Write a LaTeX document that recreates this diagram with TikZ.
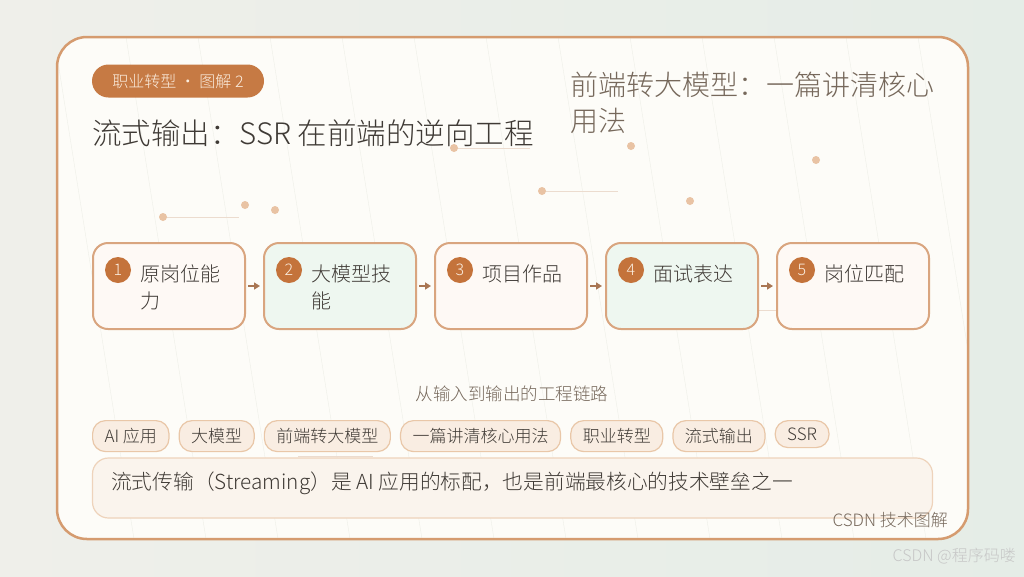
\documentclass[tikz,border=0pt]{standalone}
\usepackage{fontspec}
\IfFontExistsTF{Noto Sans CJK SC Light}{\setmainfont{Noto Sans CJK SC Light}}{\setmainfont{Noto Sans CJK SC}}
\usetikzlibrary{positioning,arrows.meta}

\definecolor{pageleft}{HTML}{EFEFEA}
\definecolor{pageright}{HTML}{E5EDE7}
\definecolor{cardfill}{HTML}{FDFCF8}
\definecolor{cardline}{HTML}{D59B6F}
\definecolor{grain}{HTML}{EEEFE8}
\definecolor{badgefill}{HTML}{C67A44}
\definecolor{badgetext}{HTML}{FBEEE0}
\definecolor{numfill}{HTML}{C4733B}
\definecolor{warmfill}{HTML}{FEF9F5}
\definecolor{mintfill}{HTML}{EEF7F0}
\definecolor{boxline}{HTML}{D9A57F}
\definecolor{arrowcol}{HTML}{A97653}
\definecolor{tagfill}{HTML}{F9EDE2}
\definecolor{tagline}{HTML}{E9C7A8}
\definecolor{quotefill}{HTML}{FAF4ED}
\definecolor{quoteline}{HTML}{EED3BB}
\definecolor{ink}{HTML}{3F3A35}
\definecolor{muted}{HTML}{76685B}
\definecolor{dotcol}{HTML}{E9C3A4}
\definecolor{dotline}{HTML}{ECDCCF}
\definecolor{wmark}{HTML}{C6C6C6}

\tikzset{
	stepbox/.style={draw=boxline, line width=2pt, rounded corners=15pt, minimum width=152pt, minimum height=86pt, inner sep=0pt},
	numdot/.style={circle, fill=numfill, text=badgetext, inner sep=0pt, minimum size=26pt, font=\fontsize{16}{16}\selectfont},
	steptext/.style={anchor=north west, inner sep=0pt, align=left, text=ink, font=\fontsize{20}{27}\selectfont},
	flow/.style={-{Triangle[length=6pt,width=7pt]}, line width=2pt, draw=arrowcol, shorten <=2pt, shorten >=3pt},
	tag/.style={draw=tagline, fill=tagfill, line width=1.2pt, rounded corners=13pt, minimum height=31pt, inner xsep=12pt, inner ysep=0pt, text=ink, font=\fontsize{17}{17}\selectfont},
	deco/.style={fill=dotcol},
	decoline/.style={draw=dotline, line width=1pt},
}

\begin{document}
\begin{tikzpicture}[x=1pt,y=-1pt]
	\useasboundingbox (0,0) rectangle (1024,576);
	\fill[left color=pageleft, right color=pageright] (0,0) rectangle (1024,576);
	\fill[cardfill, rounded corners=30pt] (57,37) rectangle (968,539);
	\begin{scope}
		\clip[rounded corners=30pt] (57,37) rectangle (968,539);
		\draw[grain] (-18,37) -- (62,539);
		\draw[grain] (54,37) -- (134,539);
		\draw[grain] (126,37) -- (206,539);
		\draw[grain] (198,37) -- (278,539);
		\draw[grain] (270,37) -- (350,539);
		\draw[grain] (342,37) -- (422,539);
		\draw[grain] (414,37) -- (494,539);
		\draw[grain] (486,37) -- (566,539);
		\draw[grain] (558,37) -- (638,539);
		\draw[grain] (630,37) -- (710,539);
		\draw[grain] (702,37) -- (782,539);
		\draw[grain] (774,37) -- (854,539);
		\draw[grain] (846,37) -- (926,539);
		\draw[grain] (918,37) -- (998,539);
	\end{scope}
	\draw[cardline, line width=2.5pt, rounded corners=30pt] (57,37) rectangle (968,539);

	\draw[decoline] (454,148) -- (530,148);
	\draw[decoline] (542,191) -- (618,191);
	\draw[decoline] (163,217) -- (239,217);
	\draw[decoline] (298,456) -- (373,456);
	\draw[decoline] (700,310) -- (776,310);
	\fill[deco] (454,148) circle (4);
	\fill[deco] (542,191) circle (4);
	\fill[deco] (163,217) circle (4);
	\fill[deco] (245,205) circle (4);
	\fill[deco] (275,210) circle (4);
	\fill[deco] (631,146) circle (4);
	\fill[deco] (816,160) circle (4);
	\fill[deco] (690,201) circle (4);
	\fill[deco] (366,427) circle (4);

	\node[fill=badgefill, text=badgetext, rounded corners=16.5pt, minimum width=172pt, minimum height=33pt, inner sep=0pt, font=\fontsize{16}{16}\selectfont] (badge) at (178,81) {职业转型 · 图解 2};
	\node[anchor=west, inner sep=0pt, text=ink, font=\fontsize{29.5}{34}\selectfont] (title) at (92,133) {流式输出：SSR 在前端的逆向工程};
	\node[anchor=north west, inner sep=0pt, align=left, text=muted, font=\fontsize{28}{36}\selectfont] (subtitle) at (570,72) {前端转大模型：一篇讲清核心\\用法};

	\node[stepbox, fill=warmfill] (s1) at (169,286) {};
	\node[stepbox, fill=mintfill] (s2) at (340,286) {};
	\node[stepbox, fill=warmfill] (s3) at (511,286) {};
	\node[stepbox, fill=mintfill] (s4) at (682,286) {};
	\node[stepbox, fill=warmfill] (s5) at (853,286) {};
	\node[numdot] (n1) at ([xshift=26pt,yshift=-28pt]s1.north west) {1};
	\node[numdot] (n2) at ([xshift=26pt,yshift=-28pt]s2.north west) {2};
	\node[numdot] (n3) at ([xshift=26pt,yshift=-28pt]s3.north west) {3};
	\node[numdot] (n4) at ([xshift=26pt,yshift=-28pt]s4.north west) {4};
	\node[numdot] (n5) at ([xshift=26pt,yshift=-28pt]s5.north west) {5};
	\node[steptext] (t1) at ([xshift=48pt,yshift=-23pt]s1.north west) {原岗位能\\力};
	\node[steptext] (t2) at ([xshift=48pt,yshift=-23pt]s2.north west) {大模型技\\能};
	\node[steptext] (t3) at ([xshift=48pt,yshift=-23pt]s3.north west) {项目作品};
	\node[steptext] (t4) at ([xshift=48pt,yshift=-23pt]s4.north west) {面试表达};
	\node[steptext] (t5) at ([xshift=48pt,yshift=-23pt]s5.north west) {岗位匹配};
	\draw[flow] (s1) -- (s2);
	\draw[flow] (s2) -- (s3);
	\draw[flow] (s3) -- (s4);
	\draw[flow] (s4) -- (s5);

	\node[text=muted, font=\fontsize{17.5}{17.5}\selectfont] (caption) at (512,394) {从输入到输出的工程链路};

	\node[tag, anchor=north west] (tag1) at (92,420) {AI 应用};
	\node[tag, right=9pt of tag1.north east, anchor=north west] (tag2) {大模型};
	\node[tag, right=9pt of tag2.north east, anchor=north west] (tag3) {前端转大模型};
	\node[tag, right=9pt of tag3.north east, anchor=north west] (tag4) {一篇讲清核心用法};
	\node[tag, right=9pt of tag4.north east, anchor=north west] (tag5) {职业转型};
	\node[tag, right=9pt of tag5.north east, anchor=north west] (tag6) {流式输出};
	\node[tag, right=9pt of tag6.north east, anchor=north west, minimum height=27pt] (tag7) {SSR};

	\node[draw=quoteline, fill=quotefill, line width=1.2pt, rounded corners=16pt, minimum width=840pt, minimum height=60pt] (quote) at (512.5,488) {};
	\node[anchor=west, inner sep=0pt, text=ink, font=\fontsize{20.7}{20.7}\selectfont] (quotetext) at (111,483) {流式传输（Streaming）是 AI 应用的标配，也是前端最核心的技术壁垒之一};

	\node[anchor=east, inner sep=0pt, text=muted, font=\fontsize{17}{17}\selectfont] (footer) at (948,520) {CSDN 技术图解};
	\node[anchor=east, inner sep=0pt, text=wmark, font=\fontsize{16}{16}\selectfont] (wm) at (1016,556) {CSDN @程序码喽};
\end{tikzpicture}
\end{document}
